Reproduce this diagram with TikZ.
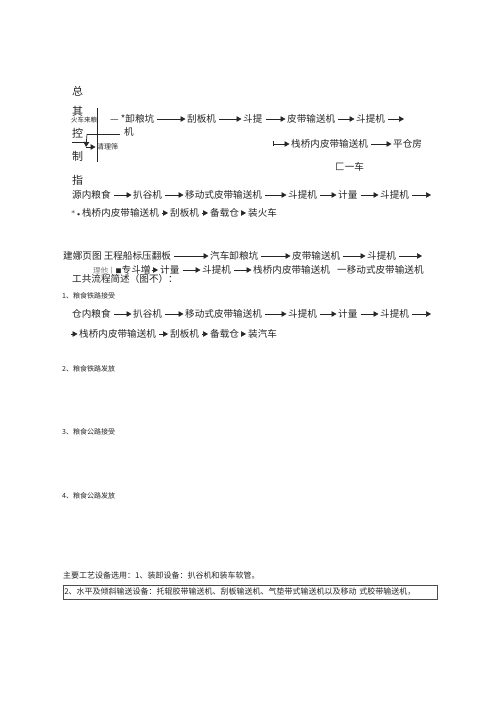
\documentclass[tikz,border=0pt]{standalone}
\usepackage{fontspec}
\newfontfamily\cjk{Noto Sans CJK SC}
\usetikzlibrary{arrows.meta}
\colorlet{ink}{black!85}
\begin{document}
\begin{tikzpicture}[x=1pt,y=-1pt,
    txt/.style={anchor=west,inner sep=0pt,text=ink,font=\cjk\fontsize{9.6}{10}\selectfont},
    small/.style={txt,font=\cjk\fontsize{7}{8}\selectfont},
    big/.style={txt,font=\cjk\fontsize{11}{12}\selectfont},
    flow/.style={draw=ink,line width=0.7pt,-{Triangle[length=5pt,width=5.5pt]},shorten <=3pt,shorten >=1.5pt},
    headonly/.style={flow,shorten <=3pt,shorten >=2pt}]
    \useasboundingbox[fill=white] (0,0) rectangle (500,708);
    % left column
    \node[big] (zong) at (72,91) {总};
    \node[big] (qi) at (72,111) {其};
    \node[small,font=\cjk\fontsize{6.5}{7}\selectfont] (huoche) at (71,120.5) {火车来粮};
    \node[big] (kong) at (72,133) {控};
    \node[big] (zhi) at (72,156) {制};
    \node[big] (zhizhi) at (72,180) {指};
    \node[small] (qingli) at (97,147) {清理筛};
    \coordinate (vtop) at (97,108);
    \coordinate (vbot) at (97,162);
    \coordinate (hl) at (87,134);
    \coordinate (hr) at (120,134);
    \coordinate (kl) at (72,142);
    \coordinate (kr) at (86,142);
    \coordinate (turn) at (86,147);
    \draw[ink,line width=0.7pt] (vtop) -- (vbot);
    \draw[ink,line width=0.7pt] (hl) -- (hr);
    \draw[ink,line width=0.7pt] (kl) -- (kr);
    \draw[flow,shorten <=0pt,shorten >=0pt] (hl) -- (turn);
    \draw[flow,shorten <=0pt] (turn) -- (qingli);
    % first flow
    \node[txt] (xieliang) at (110,119) {— *卸粮坑};
    \node[txt] (guaban) at (187,119) {刮板机};
    \node[txt] (doukt) at (243,119) {斗提};
    \node[txt] (pidai) at (287,119) {皮带输送机};
    \node[txt] (doutiji) at (356,119) {斗提机};
    \coordinate (endA) at (404,119);
    \node[txt] (ji) at (124,132) {机};
    \draw[flow] (xieliang) -- (guaban);
    \draw[flow] (guaban) -- (doukt);
    \draw[flow] (doukt) -- (pidai);
    \draw[flow] (pidai) -- (doutiji);
    \draw[flow,shorten >=0pt] (doutiji) -- (endA);
    \coordinate (barA) at (273,144);
    \node[txt] (zhanqiao) at (291,144) {栈桥内皮带输送机};
    \node[txt] (pingcang) at (393,144) {平仓房};
    \node[txt] (kuangche) at (335,167) {匚一车};
    \draw[flow,{Bar[width=5pt]}-{Triangle[length=5pt,width=5.5pt]},shorten <=0pt] (barA) -- (zhanqiao);
    \draw[flow] (zhanqiao) -- (pingcang);
    % second flow
    \node[txt] (yuan) at (72,195) {源内粮食};
    \node[txt] (pagu) at (133,195) {扒谷机};
    \node[txt] (yidong) at (185,195) {移动式皮带输送机};
    \node[txt] (doutiB) at (288,195) {斗提机};
    \node[txt] (jiliang) at (338,195) {计量};
    \node[txt] (doutiC) at (380,195) {斗提机};
    \coordinate (endB) at (431,195);
    \draw[flow] (yuan) -- (pagu);
    \draw[flow] (pagu) -- (yidong);
    \draw[flow] (yidong) -- (doutiB);
    \draw[flow] (doutiB) -- (jiliang);
    \draw[flow] (jiliang) -- (doutiC);
    \draw[flow,shorten >=0pt] (doutiC) -- (endB);
    \node[txt] (zhanqiaoB) at (71,213) {{\rmfamily\fontsize{8}{8}\selectfont *•}栈桥内皮带输送机};
    \node[txt] (guabanB) at (170,213) {刮板机};
    \node[txt] (beizai) at (210,213) {备载仓};
    \node[txt] (zhuanghuo) at (248,213) {装火车};
    \draw[headonly] (zhanqiaoB) -- (guabanB);
    \draw[headonly] (guabanB) -- (beizai);
    \draw[headonly] (beizai) -- (zhuanghuo);
    % third flow
    \node[txt] (jianna) at (63,256) {建娜页图 王程船标压翻板};
    \node[txt] (qiche) at (210,256) {汽车卸粮坑};
    \node[txt] (pidaiC) at (292,256) {皮带输送机};
    \node[txt] (doutiD) at (367,256) {斗提机};
    \coordinate (endC) at (422,256);
    \draw[flow] (jianna) -- (qiche);
    \draw[flow] (qiche) -- (pidaiC);
    \draw[flow] (pidaiC) -- (doutiD);
    \draw[flow,shorten >=0pt] (doutiD) -- (endC);
    \node[txt] (zhuandou) at (93,270) {{\fontsize{7.5}{8}\selectfont\textcolor{gray}{理他丨}\fontsize{6}{6}\selectfont■}专斗増};
    \node[txt] (jiliangB) at (160,270) {计量};
    \node[txt] (doutiE) at (202,270) {斗提机};
    \node[txt] (zhanqiaoC) at (253,270) {栈桥内皮带输送机};
    \node[txt] (yidongB) at (337,270) {一移动式皮带输送机};
    \draw[headonly,shorten <=1pt] (zhuandou) -- (jiliangB);
    \draw[flow] (jiliangB) -- (doutiE);
    \draw[flow] (doutiE) -- (zhanqiaoC);
    \node[txt] (gongyi) at (72,279) {工共流程简述（图不）：};
    % sections
    \node[small] (secA) at (62,296) {1、粮食铁路接受};
    \node[txt] (cang) at (72,314) {仓内粮食};
    \node[txt] (paguB) at (133,314) {扒谷机};
    \node[txt] (yidongC) at (185,314) {移动式皮带输送机};
    \node[txt] (doutiF) at (288,314) {斗提机};
    \node[txt] (jiliangC) at (338,314) {计量};
    \node[txt] (doutiG) at (380,314) {斗提机};
    \coordinate (endD) at (431,314);
    \draw[flow] (cang) -- (paguB);
    \draw[flow] (paguB) -- (yidongC);
    \draw[flow] (yidongC) -- (doutiF);
    \draw[flow] (doutiF) -- (jiliangC);
    \draw[flow] (jiliangC) -- (doutiG);
    \draw[flow,shorten >=0pt] (doutiG) -- (endD);
    \coordinate (startE) at (71,334);
    \node[txt] (zhanqiaoD) at (79,334) {栈桥内皮带输送机};
    \node[txt] (guabanC) at (170,334) {刮板机};
    \node[txt] (beizaiB) at (210,334) {备载仓};
    \node[txt] (zhuangqi) at (248,334) {装汽车};
    \draw[headonly,shorten <=0pt,shorten >=1.5pt] (startE) -- (zhanqiaoD);
    \draw[headonly] (zhanqiaoD) -- (guabanC);
    \draw[headonly] (guabanC) -- (beizaiB);
    \draw[headonly] (beizaiB) -- (zhuangqi);
    \node[small] (secB) at (62,369) {2、粮食铁路发放};
    \node[small] (secC) at (62,432) {3、粮食公路接受};
    \node[small] (secD) at (62,496) {4、粮食公路发放};
    % equipment
    \node[txt,font=\cjk\fontsize{8}{9}\selectfont] (shebei) at (63,575) {主要工艺设备选用：1、装卸设备：扒谷机和装车软管。};
    \node[txt,font=\cjk\fontsize{8}{9}\selectfont,draw=black!70,line width=0.6pt,inner xsep=1pt,inner ysep=3pt,text width=372pt] (shupai) at (63,592) {2、水平及倾斜输送设备：托辊胶带输送机、刮板输送机、气垫带式输送机以及移动 式胶带输送机，};
\end{tikzpicture}
\end{document}
